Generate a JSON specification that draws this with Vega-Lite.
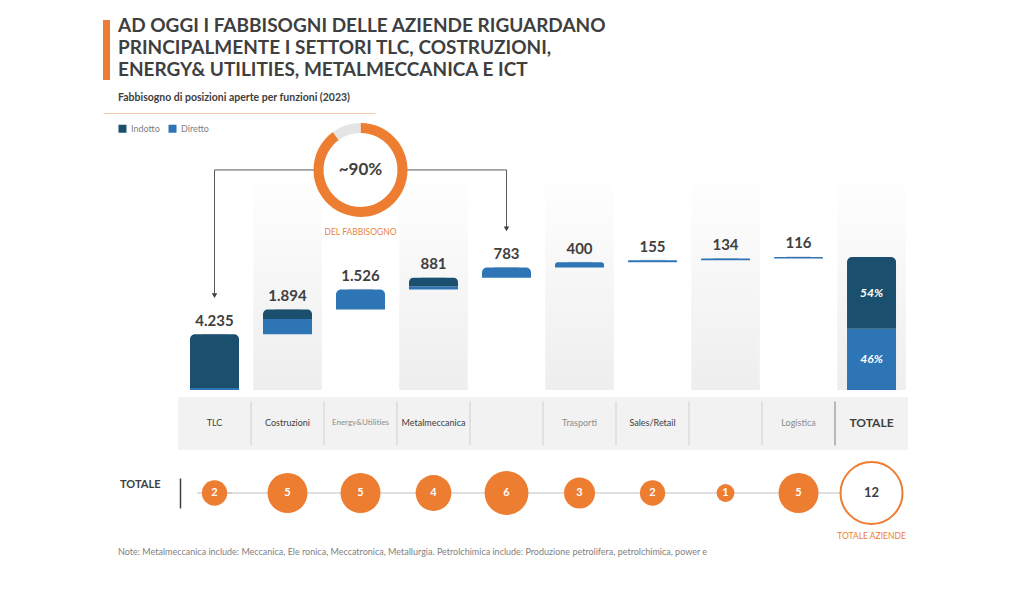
{
  "$schema": "https://vega.github.io/schema/vega-lite/v6.json",
  "background": "#ffffff",
  "padding": {"left": 103, "top": 15, "right": 20, "bottom": 20},
  "config": {
    "font": "Lato",
    "view": {"stroke": null},
    "locale": {"number": {"decimal": ",", "thousands": ".", "grouping": [3], "currency": ["€", ""]}}
  },
  "datasets": {
    "settori": [
      {"settore": "TLC", "etichetta": "TLC", "ordine": 1, "Indotto": 4085, "Diretto": 150, "aziende": 2},
      {"settore": "Costruzioni", "etichetta": "Costruzioni", "ordine": 2, "Indotto": 720, "Diretto": 1174, "aziende": 5},
      {"settore": "Energy&Utilities", "etichetta": "Energy&Utilities", "ordine": 3, "Indotto": 0, "Diretto": 1526, "aziende": 5},
      {"settore": "Metalmeccanica", "etichetta": "Metalmeccanica", "ordine": 4, "Indotto": 660, "Diretto": 221, "aziende": 4},
      {"settore": "ICT", "etichetta": "", "ordine": 5, "Indotto": 0, "Diretto": 783, "aziende": 6},
      {"settore": "Trasporti", "etichetta": "Trasporti", "ordine": 6, "Indotto": 0, "Diretto": 400, "aziende": 3},
      {"settore": "Sales/Retail", "etichetta": "Sales/Retail", "ordine": 7, "Indotto": 0, "Diretto": 155, "aziende": 2},
      {"settore": "Petrolchimica", "etichetta": "", "ordine": 8, "Indotto": 0, "Diretto": 134, "aziende": 1},
      {"settore": "Logistica", "etichetta": "Logistica", "ordine": 9, "Indotto": 0, "Diretto": 116, "aziende": 5},
      {"settore": "TOTALE", "etichetta": "TOTALE", "ordine": 10, "Indotto": 5465, "Diretto": 4659, "aziende": 12}
    ],
    "titolo": [
      {"riga": "r1", "testo": "AD OGGI I FABBISOGNI DELLE AZIENDE RIGUARDANO"},
      {"riga": "r2", "testo": "PRINCIPALMENTE I SETTORI TLC, COSTRUZIONI,"},
      {"riga": "r3", "testo": "ENERGY& UTILITIES, METALMECCANICA E ICT"},
      {"riga": "s", "testo": "Fabbisogno di posizioni aperte per funzioni (2023)"}
    ],
    "anello": [
      {"parte": "coperto", "quota": 90, "ordine": 1},
      {"parte": "resto", "quota": 10, "ordine": 2}
    ]
  },
  "title": {
    "text": "Note: Metalmeccanica include: Meccanica, Ele ronica, Meccatronica, Metallurgia. Petrolchimica include: Produzione petrolifera, petrolchimica, power e",
    "orient": "bottom", "anchor": "start", "frame": "group", "dx": 15, "offset": 7,
    "fontSize": 9, "fontWeight": "normal", "color": "#7F7F7F"
  },
  "spacing": 0,
  "bounds": "flush",
  "vconcat": [
    {
      "width": 272, "height": 98,
      "data": {"name": "titolo"},
      "transform": [{"calculate": "0", "as": "inizio"}],
      "encoding": {
        "x": {"field": "inizio", "type": "quantitative", "scale": {"domain": [0, 1]}, "axis": {"orient": "bottom", "domainColor": "#F8CBAD", "domainWidth": 1, "labels": false, "ticks": false, "grid": false, "title": null}},
        "y": {"field": "riga", "type": "nominal", "scale": {"domain": ["r1", "r2", "r3", "s"], "paddingInner": 0, "paddingOuter": 0.2273, "align": 0}, "axis": null}
      },
      "layer": [
        {
          "transform": [{"filter": "datum.riga === 'r2'"}],
          "mark": {"type": "tick", "orient": "vertical", "thickness": 7, "size": 60, "color": "#ED7D31", "opacity": 1, "xOffset": 3.5, "yOffset": 2}
        },
        {
          "transform": [{"filter": "datum.riga !== 's'"}],
          "mark": {"type": "text", "align": "left", "baseline": "middle", "dx": 15, "fontSize": 19, "fontWeight": "bold", "color": "#3F3F3F"},
          "encoding": {"text": {"field": "testo"}}
        },
        {
          "transform": [{"filter": "datum.riga === 's'"}],
          "mark": {"type": "text", "align": "left", "baseline": "middle", "dx": 15, "dy": 6.5, "fontSize": 10.5, "fontWeight": "bold", "color": "#404040"},
          "encoding": {"text": {"field": "testo"}}
        }
      ]
    },
    {
      "width": 805, "height": 277,
      "data": {"name": "settori"},
      "transform": [
        {"calculate": "datum.Indotto + datum.Diretto", "as": "somma"},
        {"window": [{"op": "sum", "field": "somma", "as": "cumulato"}], "sort": [{"field": "ordine", "order": "ascending"}], "frame": [null, 0]},
        {"calculate": "datum.settore === 'TOTALE' ? 0 : datum.cumulato - datum.somma", "as": "base"},
        {"calculate": "datum.base + datum.somma", "as": "fine"},
        {"calculate": "datum.fine + 2950", "as": "punta"},
        {"calculate": "16750", "as": "livello"},
        {"calculate": "0", "as": "suolo"}
      ],
      "encoding": {
        "x": {"field": "settore", "type": "nominal", "scale": {"type": "band", "domain": ["TLC", "Costruzioni", "Energy&Utilities", "Metalmeccanica", "ICT", "Trasporti", "Sales/Retail", "Petrolchimica", "Logistica", "TOTALE"], "paddingInner": 0.3288, "paddingOuter": 0.678, "align": 0.879}, "axis": null}
      },
      "layer": [
        {
          "transform": [{"filter": "datum.ordine % 2 === 0"}],
          "mark": {"type": "bar", "width": {"band": 1.4}, "color": {"gradient": "linear", "x1": 0, "y1": 0, "x2": 0, "y2": 1, "stops": [{"offset": 0, "color": "#ffffff"}, {"offset": 1, "color": "#EEEEEE"}]}},
          "encoding": {
            "y": {"field": "livello", "type": "quantitative", "scale": {"domain": [0, 21085], "nice": false, "zero": true}, "axis": null},
            "y2": {"field": "suolo"}
          }
        },
        {
          "transform": [{"filter": "datum.settore !== 'TOTALE'"}],
          "mark": {"type": "tick", "orient": "horizontal", "size": 25, "thickness": 1, "color": "#C9C9C9", "opacity": 1},
          "encoding": {
            "x": {"field": "settore", "type": "nominal", "bandPosition": 1.245},
            "y": {"field": "fine", "type": "quantitative"}
          }
        },
        {
          "transform": [
            {"fold": ["Diretto", "Indotto"], "as": ["tipo", "valore"]},
            {"filter": "datum.valore > 0"},
            {"calculate": "datum.tipo === 'Diretto' ? datum.base : datum.base + datum.Diretto", "as": "y0"},
            {"calculate": "datum.y0 + datum.valore", "as": "y1"},
            {"calculate": "datum.tipo === 'Indotto' || datum.Indotto === 0", "as": "cima"},
            {"calculate": "datum.valore / datum.somma", "as": "quota"},
            {"calculate": "(datum.y0 + datum.y1) / 2", "as": "centro"}
          ],
          "layer": [
            {
              "transform": [{"filter": "!datum.cima"}],
              "mark": {"type": "bar"},
              "encoding": {
                "y": {"field": "y1", "type": "quantitative"},
                "y2": {"field": "y0"},
                "color": {"field": "tipo", "type": "nominal", "scale": {"domain": ["Indotto", "Diretto"], "range": ["#1B4F6E", "#2E75B6"]}, "legend": {"title": null, "orient": "none", "legendX": 15, "legendY": 109, "direction": "horizontal", "symbolType": "square", "symbolSize": 64, "symbolStrokeWidth": 0, "labelFontSize": 9, "labelColor": "#7F7F7F", "labelOffset": 4, "columnPadding": 8}}
              }
            },
            {
              "transform": [{"filter": "datum.cima"}],
              "mark": {"type": "bar", "cornerRadiusTopLeft": 5, "cornerRadiusTopRight": 5},
              "encoding": {
                "y": {"field": "y1", "type": "quantitative"},
                "y2": {"field": "y0"},
                "color": {"field": "tipo", "type": "nominal"}
              }
            },
            {
              "transform": [{"filter": "datum.settore === 'TOTALE'"}],
              "mark": {"type": "text", "color": "#ffffff", "fontSize": 12, "fontWeight": "bold", "fontStyle": "italic", "baseline": "middle"},
              "encoding": {
                "y": {"field": "centro", "type": "quantitative"},
                "text": {"field": "quota", "type": "quantitative", "format": ".0%"}
              }
            }
          ]
        },
        {
          "transform": [{"filter": "datum.settore !== 'TOTALE'"}],
          "mark": {"type": "text", "fontSize": 15, "fontWeight": "bold", "color": "#404040", "baseline": "middle", "dy": -13.5},
          "encoding": {
            "y": {"field": "fine", "type": "quantitative"},
            "text": {"field": "somma", "type": "quantitative", "format": ",d"}
          }
        },
        {
          "transform": [{"filter": "datum.settore === 'TLC' || datum.settore === 'ICT'"}],
          "mark": {"type": "rule", "color": "#595959", "strokeWidth": 1},
          "encoding": {
            "y": {"field": "livello", "type": "quantitative"},
            "y2": {"field": "punta"}
          }
        },
        {
          "transform": [{"filter": "datum.settore === 'TLC' || datum.settore === 'ICT'"}],
          "mark": {"type": "line", "color": "#595959", "strokeWidth": 1},
          "encoding": {
            "y": {"field": "livello", "type": "quantitative"}
          }
        },
        {
          "transform": [{"filter": "datum.settore === 'TLC' || datum.settore === 'ICT'"}],
          "mark": {"type": "point", "shape": "triangle-down", "filled": true, "color": "#404040", "size": 30, "opacity": 1},
          "encoding": {
            "y": {"field": "punta", "type": "quantitative"}
          }
        },
        {
          "data": {"name": "anello"},
          "transform": [
            {"window": [{"op": "sum", "field": "quota", "as": "fineQuota"}], "sort": [{"field": "ordine", "order": "ascending"}], "frame": [null, 0]},
            {"calculate": "datum.fineQuota - datum.quota", "as": "inizioQuota"},
            {"calculate": "'Energy&Utilities'", "as": "posizione"},
            {"calculate": "16750", "as": "livello"}
          ],
          "encoding": {
            "x": {"field": "posizione", "type": "nominal"},
            "y": {"field": "livello", "type": "quantitative", "stack": null}
          },
          "layer": [
            {
              "transform": [{"filter": "datum.parte === 'coperto'"}],
              "mark": {"type": "point", "shape": "circle", "filled": true, "color": "#ffffff", "size": 5476, "opacity": 1}
            },
            {
              "mark": {"type": "arc", "radius": 47, "radius2": 37},
              "encoding": {
                "theta": {"field": "inizioQuota", "type": "quantitative", "scale": {"domain": [0, 100]}},
                "theta2": {"field": "fineQuota"},
                "color": {"condition": {"test": "datum.parte === 'resto'", "value": "#E4E4E4"}, "value": "#ED7D31"}
              }
            },
            {
              "transform": [{"filter": "datum.parte === 'coperto'"}, {"calculate": "'~' + datum.quota + '%'", "as": "etichetta"}],
              "mark": {"type": "text", "fontSize": 17, "fontWeight": "bold", "color": "#404040", "baseline": "middle"},
              "encoding": {"text": {"field": "etichetta"}}
            },
            {
              "transform": [{"filter": "datum.parte === 'coperto'"}],
              "mark": {"type": "text", "fontSize": 8.5, "color": "#E9843F", "baseline": "middle", "dy": 62},
              "encoding": {"text": {"value": "DEL FABBISOGNO"}}
            }
          ]
        }
      ]
    },
    {
      "width": 805, "height": 88,
      "data": {"name": "settori"},
      "transform": [{"calculate": "'Funzione'", "as": "riga"}],
      "encoding": {
        "x": {"field": "settore", "type": "nominal", "scale": {"type": "band", "domain": ["TLC", "Costruzioni", "Energy&Utilities", "Metalmeccanica", "ICT", "Trasporti", "Sales/Retail", "Petrolchimica", "Logistica", "TOTALE"], "paddingInner": 0, "paddingOuter": 0.5137, "align": 1}, "axis": null},
        "y": {"field": "riga", "type": "nominal", "scale": {"type": "band", "domain": ["Funzione"], "paddingInner": 0, "paddingOuter": 0.3302, "align": 0.2}, "axis": null}
      },
      "layer": [
        {"mark": {"type": "rect", "color": "#F2F2F2"}},
        {
          "transform": [{"filter": "datum.ordine > 1"}],
          "mark": {"type": "tick", "orient": "vertical", "size": 44, "thickness": 1, "opacity": 1},
          "encoding": {
            "x": {"field": "settore", "type": "nominal", "bandPosition": 0},
            "color": {"condition": {"test": "datum.settore === 'TOTALE'", "value": "#7F7F7F"}, "value": "#D0D0D0"}
          }
        },
        {
          "transform": [{"filter": "datum.settore !== 'TOTALE'"}],
          "mark": {"type": "text", "baseline": "middle"},
          "encoding": {
            "text": {"field": "etichetta"},
            "color": {"condition": {"test": "indexof(['Energy&Utilities','Trasporti','Logistica'], datum.settore) >= 0", "value": "#8C8C8C"}, "value": "#404040"},
            "size": {"condition": {"test": "datum.settore === 'Energy&Utilities'", "value": 8}, "value": 9}
          }
        },
        {
          "transform": [{"filter": "datum.settore === 'TOTALE'"}],
          "mark": {"type": "text", "baseline": "middle", "fontSize": 12, "fontWeight": "bold", "color": "#404040"},
          "encoding": {"text": {"field": "etichetta"}}
        }
      ]
    },
    {
      "width": 805, "height": 30,
      "data": {"name": "settori"},
      "transform": [{"calculate": "'TOTALE'", "as": "riga"}],
      "encoding": {
        "x": {"field": "settore", "type": "nominal", "scale": {"type": "band", "domain": ["TLC", "Costruzioni", "Energy&Utilities", "Metalmeccanica", "ICT", "Trasporti", "Sales/Retail", "Petrolchimica", "Logistica", "TOTALE"], "paddingInner": 0.3288, "paddingOuter": 0.678, "align": 0.879}, "axis": null},
        "y": {"field": "riga", "type": "nominal", "scale": {"type": "band", "domain": ["TOTALE"], "paddingInner": 0, "paddingOuter": 0}, "axis": {"orient": "left", "offset": -77, "domain": true, "domainColor": "#404040", "domainWidth": 1.5, "ticks": false, "grid": false, "labelFontSize": 11, "labelFontWeight": "bold", "labelColor": "#404040", "labelPadding": 20, "labelOffset": -8, "title": null}}
      },
      "layer": [
        {
          "mark": {"type": "line", "color": "#C0C0C0", "strokeWidth": 1}
        },
        {
          "transform": [{"filter": "datum.settore === 'TLC'"}],
          "mark": {"type": "tick", "orient": "horizontal", "size": 35, "thickness": 1, "color": "#C0C0C0", "opacity": 1},
          "encoding": {
            "x": {"field": "settore", "type": "nominal", "bandPosition": 0.14}
          }
        },
        {
          "transform": [{"filter": "datum.settore !== 'TOTALE'"}],
          "mark": {"type": "point", "shape": "circle", "filled": true, "color": "#ED7D31", "opacity": 1},
          "encoding": {
            "size": {"field": "aziende", "type": "quantitative", "scale": {"type": "linear", "domain": [0, 6], "range": [0, 1920], "zero": true}, "legend": null}
          }
        },
        {
          "transform": [{"filter": "datum.settore !== 'TOTALE'"}],
          "mark": {"type": "text", "color": "#ffffff", "fontSize": 11, "fontWeight": "bold", "baseline": "middle"},
          "encoding": {"text": {"field": "aziende", "type": "quantitative"}}
        },
        {
          "transform": [{"filter": "datum.settore === 'TOTALE'"}],
          "mark": {"type": "point", "shape": "circle", "filled": true, "fill": "#ffffff", "stroke": "#ED7D31", "strokeWidth": 2, "opacity": 1},
          "encoding": {
            "size": {"field": "aziende", "type": "quantitative", "scale": {"type": "linear", "domain": [0, 6], "range": [0, 1920], "zero": true}, "legend": null}
          }
        },
        {
          "transform": [{"filter": "datum.settore === 'TOTALE'"}],
          "mark": {"type": "text", "color": "#404040", "fontSize": 13, "fontWeight": "bold", "baseline": "middle"},
          "encoding": {"text": {"field": "aziende", "type": "quantitative"}}
        },
        {
          "transform": [{"filter": "datum.settore === 'TOTALE'"}],
          "mark": {"type": "text", "color": "#ED7D31", "fontSize": 8.5, "baseline": "middle", "dy": 43},
          "encoding": {"text": {"value": "TOTALE AZIENDE"}}
        }
      ]
    }
  ]
}
